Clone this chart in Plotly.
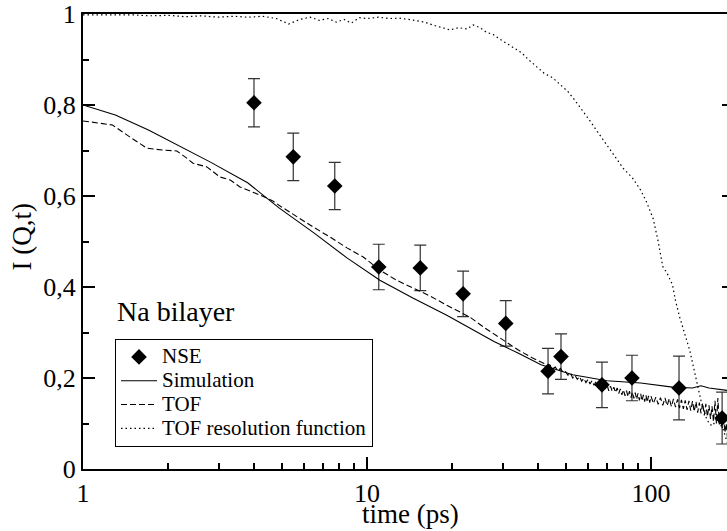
import plotly.graph_objects as go

# ---------------- data ----------------
t_nse = [4.0, 5.5, 7.7, 11.0, 15.4, 21.8, 30.8, 43.4, 48.2, 67.2, 85.7, 125.5, 178.0]
I_nse = [0.805, 0.686, 0.622, 0.444, 0.442, 0.385, 0.320, 0.215, 0.247, 0.185, 0.200, 0.178, 0.112]
err_nse = [0.053, 0.052, 0.052, 0.050, 0.050, 0.050, 0.050, 0.050, 0.050, 0.050, 0.050, 0.070, 0.057]

t_sim = [1, 1.3, 1.7, 2.2, 2.8, 3.8, 4.9, 6.5, 8.5, 11.1, 14.5, 19.1, 23, 28, 34, 41,
         53, 70, 92, 119, 140, 150, 160, 175, 190]
I_sim = [0.800, 0.778, 0.745, 0.708, 0.675, 0.629, 0.574, 0.519, 0.464, 0.415, 0.376, 0.338,
         0.310, 0.280, 0.255, 0.229, 0.207, 0.194, 0.189, 0.180, 0.178, 0.183, 0.178, 0.175, 0.172]

t_tof = [1, 1.1, 1.27, 1.46, 1.68, 1.91, 2.14, 2.3, 2.44, 2.73, 3.03, 3.3, 3.57, 4.2, 4.66,
         5.0, 5.6, 6.46, 7.4, 8.5, 9.7, 11.1, 12.7, 14.5, 16.7, 19.1, 23, 26, 30, 34, 38,
         42, 43, 44, 45, 46, 47, 48, 49, 50, 51, 52, 53, 54, 55, 56, 57, 58, 59, 60,
         61, 62, 63, 64, 65, 66, 67, 68, 69, 70, 71, 72, 73, 74, 75, 76, 77, 78, 79, 80,
         81, 82, 83, 84, 85, 86, 87, 88, 89, 90, 91, 92, 93, 94, 95, 96, 97, 98, 99, 100,
         102, 104, 106, 108, 110, 112, 114, 116, 118, 120, 122, 124, 126, 128, 130,
         132, 134, 136, 138, 140, 142, 144, 146, 148, 150, 152, 154, 156, 158, 160,
         162, 164, 166, 168, 170, 172, 174, 176, 178, 180, 182, 184, 186, 188, 190]
I_tof = [0.765, 0.762, 0.756, 0.730, 0.705, 0.701, 0.699, 0.685, 0.672, 0.664, 0.642, 0.635,
         0.620, 0.602, 0.589, 0.576, 0.556, 0.532, 0.510, 0.486, 0.466, 0.437, 0.415, 0.398,
         0.380, 0.360, 0.334, 0.310, 0.285, 0.262, 0.245,
         0.232, 0.226, 0.229, 0.220, 0.224, 0.216, 0.221, 0.212, 0.214, 0.206, 0.211, 0.200,
         0.206, 0.197, 0.203, 0.193, 0.199, 0.190, 0.197,
         0.187, 0.194, 0.184, 0.192, 0.182, 0.190, 0.178, 0.187, 0.176, 0.185, 0.172, 0.182,
         0.171, 0.180, 0.168, 0.178, 0.166, 0.176, 0.163, 0.174,
         0.161, 0.172, 0.159, 0.171, 0.157, 0.169, 0.155, 0.168, 0.153, 0.166, 0.151, 0.165,
         0.150, 0.163, 0.148, 0.162, 0.147, 0.161, 0.146, 0.160,
         0.144, 0.158, 0.142, 0.157, 0.140, 0.156, 0.139, 0.155, 0.137, 0.154, 0.136, 0.153,
         0.134, 0.152, 0.132,
         0.151, 0.130, 0.150, 0.128, 0.149, 0.126, 0.148, 0.124, 0.146, 0.122, 0.145, 0.118,
         0.143, 0.115, 0.140,
         0.110, 0.138, 0.104, 0.150, 0.100, 0.156, 0.098, 0.125, 0.090, 0.118, 0.080, 0.100,
         0.065, 0.085, 0.055]

t_res = [1, 1.15, 1.3, 1.5, 1.7, 2.0, 2.3, 2.6, 3.0, 3.4, 3.8, 4.3, 4.8, 5.3, 5.8, 6.3, 6.8,
         7.3, 7.8, 8.3, 8.8, 9.4, 10, 11, 12, 13, 14, 15, 16, 17, 18.5, 19.6, 21, 22.5, 23.6,
         25, 26.3, 27.8, 29.3, 31, 33, 35, 37, 39.4, 42, 45, 48, 50.9, 54, 58, 61, 65, 70, 75,
         80, 86, 91.5, 96, 101.8, 106, 110, 114, 119, 122, 126, 131, 137, 141, 145, 150, 157,
         161, 165, 170, 175, 180, 185, 190]
I_res = [0.998, 0.998, 0.997, 0.998, 0.996, 0.997, 0.994, 0.996, 0.993, 0.995, 0.993, 0.995,
         0.990, 0.978, 0.988, 0.993, 0.986, 0.990, 0.982, 0.988, 0.980, 0.992, 0.990, 0.993,
         0.990, 0.991, 0.988, 0.985, 0.982, 0.976, 0.970, 0.965, 0.970, 0.967, 0.976, 0.970,
         0.960, 0.955, 0.945, 0.935, 0.925, 0.915, 0.900, 0.885, 0.870, 0.860, 0.845, 0.830,
         0.810, 0.785, 0.765, 0.740, 0.710, 0.685, 0.660, 0.640, 0.615, 0.590, 0.550, 0.500,
         0.445, 0.430, 0.405, 0.370, 0.335, 0.300, 0.260, 0.225, 0.190, 0.150, 0.110, 0.098,
         0.095, 0.110, 0.100, 0.085, 0.060, 0.050]

series_names = ["NSE", "Simulation", "TOF", "TOF resolution function"]

x_tickvals = [1, 10, 100]
x_ticktext = ["1", "10", "100"]
x_minor = [2, 3, 4, 5, 6, 7, 8, 9, 20, 30, 40, 50, 60, 70, 80, 90, 200]
y_tickvals = [0, 0.2, 0.4, 0.6, 0.8, 1.0]
y_ticktext = ["0", "0,2", "0,4", "0,6", "0,8", "1"]

FONT = "Liberation Serif, Times New Roman, Times, DejaVu Serif, serif"


def legend_name(s):
    return "<span style='font-size:21px'>%s</span>" % s


fig = go.Figure()

fig.add_trace(go.Scatter(
    x=t_nse, y=I_nse, mode="markers", name=legend_name(series_names[0]),
    marker=dict(symbol="diamond", size=12, color="black"),
    error_y=dict(type="data", array=err_nse, visible=True, color="#333333",
                 thickness=1.2, width=6),
))
fig.add_trace(go.Scatter(
    x=t_sim, y=I_sim, mode="lines", name=legend_name(series_names[1]),
    line=dict(color="black", width=1.1),
))
fig.add_trace(go.Scatter(
    x=t_tof, y=I_tof, mode="lines", name=legend_name(series_names[2]),
    line=dict(color="black", width=1.1, dash="6px,3px"),
))
fig.add_trace(go.Scatter(
    x=t_res, y=I_res, mode="lines", name=legend_name(series_names[3]),
    line=dict(color="black", width=1.2, dash="1.5px,3px"),
))
# helper (invisible) trace for the right-hand tick marks
fig.add_trace(go.Scatter(
    x=t_nse[:1], y=I_nse[:1], yaxis="y2", mode="markers",
    marker=dict(opacity=0), showlegend=False, hoverinfo="skip",
))

fig.update_layout(
    width=727, height=531,
    margin=dict(l=83, r=0, t=14, b=62),
    paper_bgcolor="white", plot_bgcolor="white",
    font=dict(family=FONT, color="black", size=26),
    showlegend=True,
    legend=dict(
        x=0.0497, y=0.2857, xanchor="left", yanchor="top",
        bordercolor="black", borderwidth=1, bgcolor="white",
        font=dict(family=FONT, size=16, color="black"),
        tracegroupgap=0, itemwidth=36,
    ),
    xaxis=dict(
        type="log", range=[0, 2.2676],
        tickmode="array", tickvals=x_tickvals, ticktext=x_ticktext,
        ticks="inside", ticklen=12, tickwidth=2, tickcolor="black",
        minor=dict(tickmode="array", tickvals=x_minor, ticks="inside",
                   ticklen=6, tickwidth=2, tickcolor="black", showgrid=False),
        showline=True, linewidth=2, linecolor="black", mirror=True,
        showgrid=False, zeroline=False,
        tickfont=dict(family=FONT, size=26),
    ),
    yaxis=dict(
        range=[0, 1],
        tickmode="array", tickvals=y_tickvals, ticktext=y_ticktext,
        ticks="inside", ticklen=12, tickwidth=2, tickcolor="black",
        minor=dict(dtick=0.1, ticks="inside", ticklen=6, tickwidth=2,
                   tickcolor="black", showgrid=False),
        showline=True, linewidth=2, linecolor="black", mirror=False,
        showgrid=False, zeroline=False,
        tickfont=dict(family=FONT, size=26),
    ),
    yaxis2=dict(
        overlaying="y", side="right", range=[0, 1],
        tickmode="array", tickvals=y_tickvals,
        ticks="inside", ticklen=5, tickwidth=2, tickcolor="black",
        showticklabels=False, showline=False, showgrid=False, zeroline=False,
    ),
    annotations=[
        dict(text="Na bilayer", xref="paper", yref="paper", x=0.0497, y=0.347,
             xanchor="left", yanchor="middle", showarrow=False,
             font=dict(family=FONT, size=28, color="black")),
        dict(text="time (ps)", xref="paper", yref="paper", x=0.5078, y=-0.0989,
             xanchor="center", yanchor="middle", showarrow=False,
             font=dict(family=FONT, size=27, color="black")),
        dict(text="I (Q,t)", xref="paper", yref="paper", x=-0.0947, y=0.509,
             xanchor="center", yanchor="middle", showarrow=False, textangle=-90,
             font=dict(family=FONT, size=27, color="black")),
    ],
)

fig.write_html("out.html")
